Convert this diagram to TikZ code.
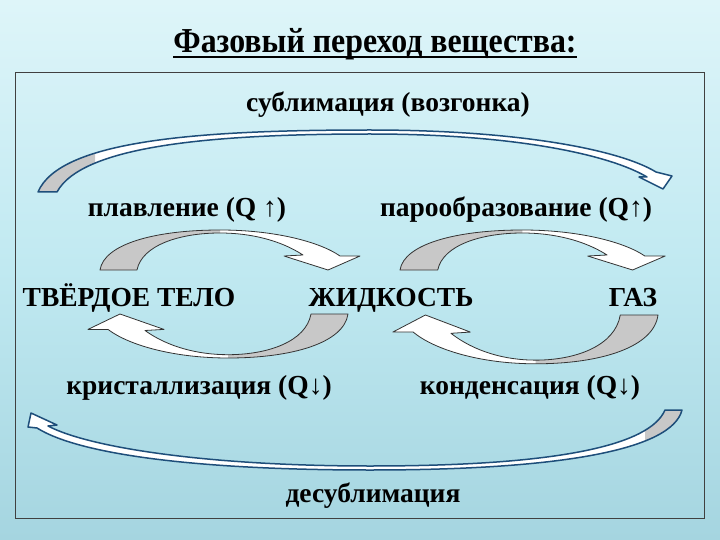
\documentclass[tikz,border=0pt]{standalone}
\usepackage{fontspec}
\setmainfont{Liberation Serif}
\definecolor{bgtop}{RGB}{222,245,249}
\definecolor{bgmid}{RGB}{192,233,241}
\definecolor{bgbot}{RGB}{165,213,224}
\definecolor{ribbon}{RGB}{30,78,122}
\definecolor{tailgray}{RGB}{200,200,200}
% small bent block arrow, origin = outer corner of its tail
\newcommand{\bendshape}[1]{%
  \path[#1] (0,0) .. controls (4,-26) and (55,-40) .. (120,-40)
    .. controls (175,-40) and (220,-28) .. (240,-14) -- (260,-14) -- (228,0)
    -- (184,-14) -- (203,-15) .. controls (180,-30) and (150,-37) .. (120,-37)
    .. controls (80,-37) and (42,-25) .. (37,0) -- cycle;}
\newcommand{\bendarrow}{%
  \bendshape{fill=white}
  \begin{scope}
    \clip (-5,-50) rectangle (120,5);
    \bendshape{fill=tailgray}
  \end{scope}
  \bendshape{draw=black!80, line width=0.8pt, line join=round}}
% long thin arrows
\newcommand{\sublimshape}[1]{%
  \path[#1] (38,192) .. controls (60,140) and (200,130) .. (370,130)
    .. controls (520,130) and (620,150) .. (656,172) -- (672,176) -- (663,189)
    -- (639,177) -- (647,177) .. controls (612,156) and (520,134) .. (370,134)
    .. controls (210,134) and (82,146) .. (57,192) -- cycle;}
\newcommand{\desublimshape}[1]{%
  \path[#1] (682,410) .. controls (672,450) and (560,470) .. (370,470)
    .. controls (200,470) and (80,455) .. (37,428) -- (28,427) -- (31,413)
    -- (57,425) -- (48,426) .. controls (90,448) and (210,466) .. (370,466)
    .. controls (560,466) and (650,445) .. (665,410) -- cycle;}

\begin{document}
\begin{tikzpicture}[x=1pt, y=-1pt,
  lbl/.style={font=\bfseries\fontsize{27.5}{32}\selectfont, anchor=base, inner sep=0pt},
  ribbonline/.style={draw=ribbon, line width=1.5pt, line join=round}]
\useasboundingbox (0,0) rectangle (720,540);
% background
\shade[top color=bgtop, bottom color=bgmid] (0,0) rectangle (720,270);
\shade[top color=bgmid, bottom color=bgbot] (0,270) rectangle (720,540);
\draw[black!75, line width=0.9pt] (15,72) rectangle (704,518);

\node[font=\bfseries\fontsize{35}{40}\selectfont, anchor=base, inner sep=0pt] (title) at (375,53)
  {\scalebox{0.91}[1]{Фазовый переход вещества:}};
\draw[line width=1.6pt] ([yshift=-4pt]title.base west) -- ([yshift=-4pt]title.base east);

% sublimation / desublimation
\sublimshape{fill=white}
\begin{scope}
  \clip (0,100) rectangle (95,200);
  \sublimshape{fill=tailgray}
\end{scope}
\sublimshape{ribbonline}
\desublimshape{fill=white}
\begin{scope}
  \clip (645,400) rectangle (700,480);
  \desublimshape{fill=tailgray}
\end{scope}
\desublimshape{ribbonline}

% melting, vaporisation, crystallisation, condensation
\begin{scope}[shift={(100,270)}]
  \bendarrow
\end{scope}
\begin{scope}[shift={(400,270)}, xscale=1.02]
  \bendarrow
\end{scope}
\begin{scope}[shift={(348,314)}, xscale=-1, yscale=-1.1]
  \bendarrow
\end{scope}
\begin{scope}[shift={(658,315)}, xscale=-1.02, yscale=-1.22]
  \bendarrow
\end{scope}

\node[lbl] (sublim) at (388,112) {сублимация (возгонка)};
\node[lbl] (melt) at (187,217) {плавление (Q ↑)};
\node[lbl] (vapor) at (516,217) {парообразование (Q↑)};
\node[lbl] (solid) at (129,306) {ТВЁРДОЕ ТЕЛО};
\node[lbl] (liquid) at (391,306) {ЖИДКОСТЬ};
\node[lbl] (gas) at (633,306) {ГАЗ};
\node[lbl] (cryst) at (199,394) {кристаллизация (Q↓)};
\node[lbl] (cond) at (530,394) {конденсация (Q↓)};
\node[lbl] (desublim) at (373,502) {десублимация};
\end{tikzpicture}
\end{document}
